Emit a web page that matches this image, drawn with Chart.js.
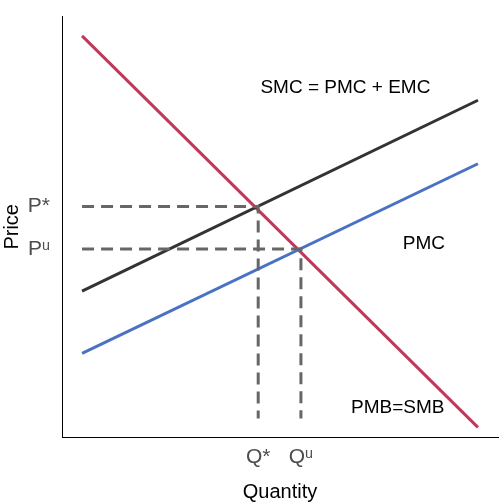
<!DOCTYPE html>
<html><head><meta charset="utf-8">
<script src="https://cdn.jsdelivr.net/npm/chart.js@4"></script>
<style>html,body{margin:0;background:#fff}#c{width:504px;height:504px}</style>
</head><body><div id="c"><canvas id="chart" width="504" height="504"></canvas></div>
<script>
const pmbX = [4.6, 95.4], pmbY = [95.4, 2.3];
const smcX = [4.6, 95.4], smcY = [34.7, 80.1];
const pmcX = [4.6, 95.4], pmcY = [19.9, 65.0];
const qStar = 45, pStar = 54.8;
const qU = 54.8, pU = 44.7;
const yBase = 4.4, xBase = 4.6;
const xTickLabels = ['Q*', 'Qᵘ'];
const yTickLabels = ['P*', 'Pᵘ'];
const labels = [
  {text: 'SMC = PMC + EMC', x: 65, y: 83},
  {text: 'PMC', x: 83, y: 46},
  {text: 'PMB=SMB', x: 77, y: 7}
];

const pts = (xs, ys) => xs.map((x, i) => ({x, y: ys[i]}));
const dash = {borderColor: '#666', borderWidth: 3, borderDash: [12, 7], pointRadius: 0, fill: false};

const textPlugin = {
  id: 'txt',
  afterDatasetsDraw(chart) {
    const {ctx, scales: {x, y}} = chart;
    ctx.save();
    ctx.font = '19px "Liberation Sans", Arial, sans-serif';
    ctx.fillStyle = '#000';
    ctx.textAlign = 'center';
    ctx.textBaseline = 'middle';
    labels.forEach(l => ctx.fillText(l.text, x.getPixelForValue(l.x), y.getPixelForValue(l.y)));
    ctx.restore();
  }
};

new Chart(document.getElementById('chart'), {
  type: 'scatter',
  data: {
    datasets: [
      {...dash, data: [{x: xBase, y: pStar}, {x: qStar, y: pStar}, {x: qStar, y: yBase}], showLine: true},
      {...dash, data: [{x: xBase, y: pU}, {x: qU, y: pU}, {x: qU, y: yBase}], showLine: true},
      {data: pts(smcX, smcY), showLine: true, borderColor: '#333333', borderWidth: 3, pointRadius: 0},
      {data: pts(pmcX, pmcY), showLine: true, borderColor: '#4a72c4', borderWidth: 3, pointRadius: 0},
      {data: pts(pmbX, pmbY), showLine: true, borderColor: '#c0395a', borderWidth: 3, pointRadius: 0}
    ]
  },
  options: {
    responsive: false,
    animation: false,
    layout: {padding: {top: -5, right: 6}},
    plugins: {legend: {display: false}, tooltip: {enabled: false}},
    scales: {
      x: {
        min: 0, max: 100,
        grid: {display: false},
        border: {color: '#000', width: 1},
        afterBuildTicks: s => { s.ticks = [{value: qStar}, {value: qU}]; },
        afterFit: s => { s.height = 67; },
        ticks: {autoSkip: false, maxRotation: 0, padding: 0, color: '#4d4d4d', font: {size: 21, family: 'Liberation Sans'},
          callback: (v, i) => xTickLabels[i]},
        title: {display: true, text: 'Quantity', color: '#000', font: {size: 20, family: 'Liberation Sans'}, padding: 0}
      },
      y: {
        min: 0, max: 100,
        grid: {display: false},
        border: {color: '#000', width: 1},
        afterBuildTicks: s => { s.ticks = [{value: pStar}, {value: pU}]; },
        afterFit: s => { s.width = 62; },
        ticks: {autoSkip: false, padding: 4, color: '#4d4d4d', font: {size: 21, family: 'Liberation Sans'},
          callback: (v, i) => yTickLabels[i]},
        title: {display: true, text: 'Price', color: '#000', font: {size: 20, family: 'Liberation Sans'}, padding: 0}
      }
    }
  },
  plugins: [textPlugin]
});
</script></body></html>
